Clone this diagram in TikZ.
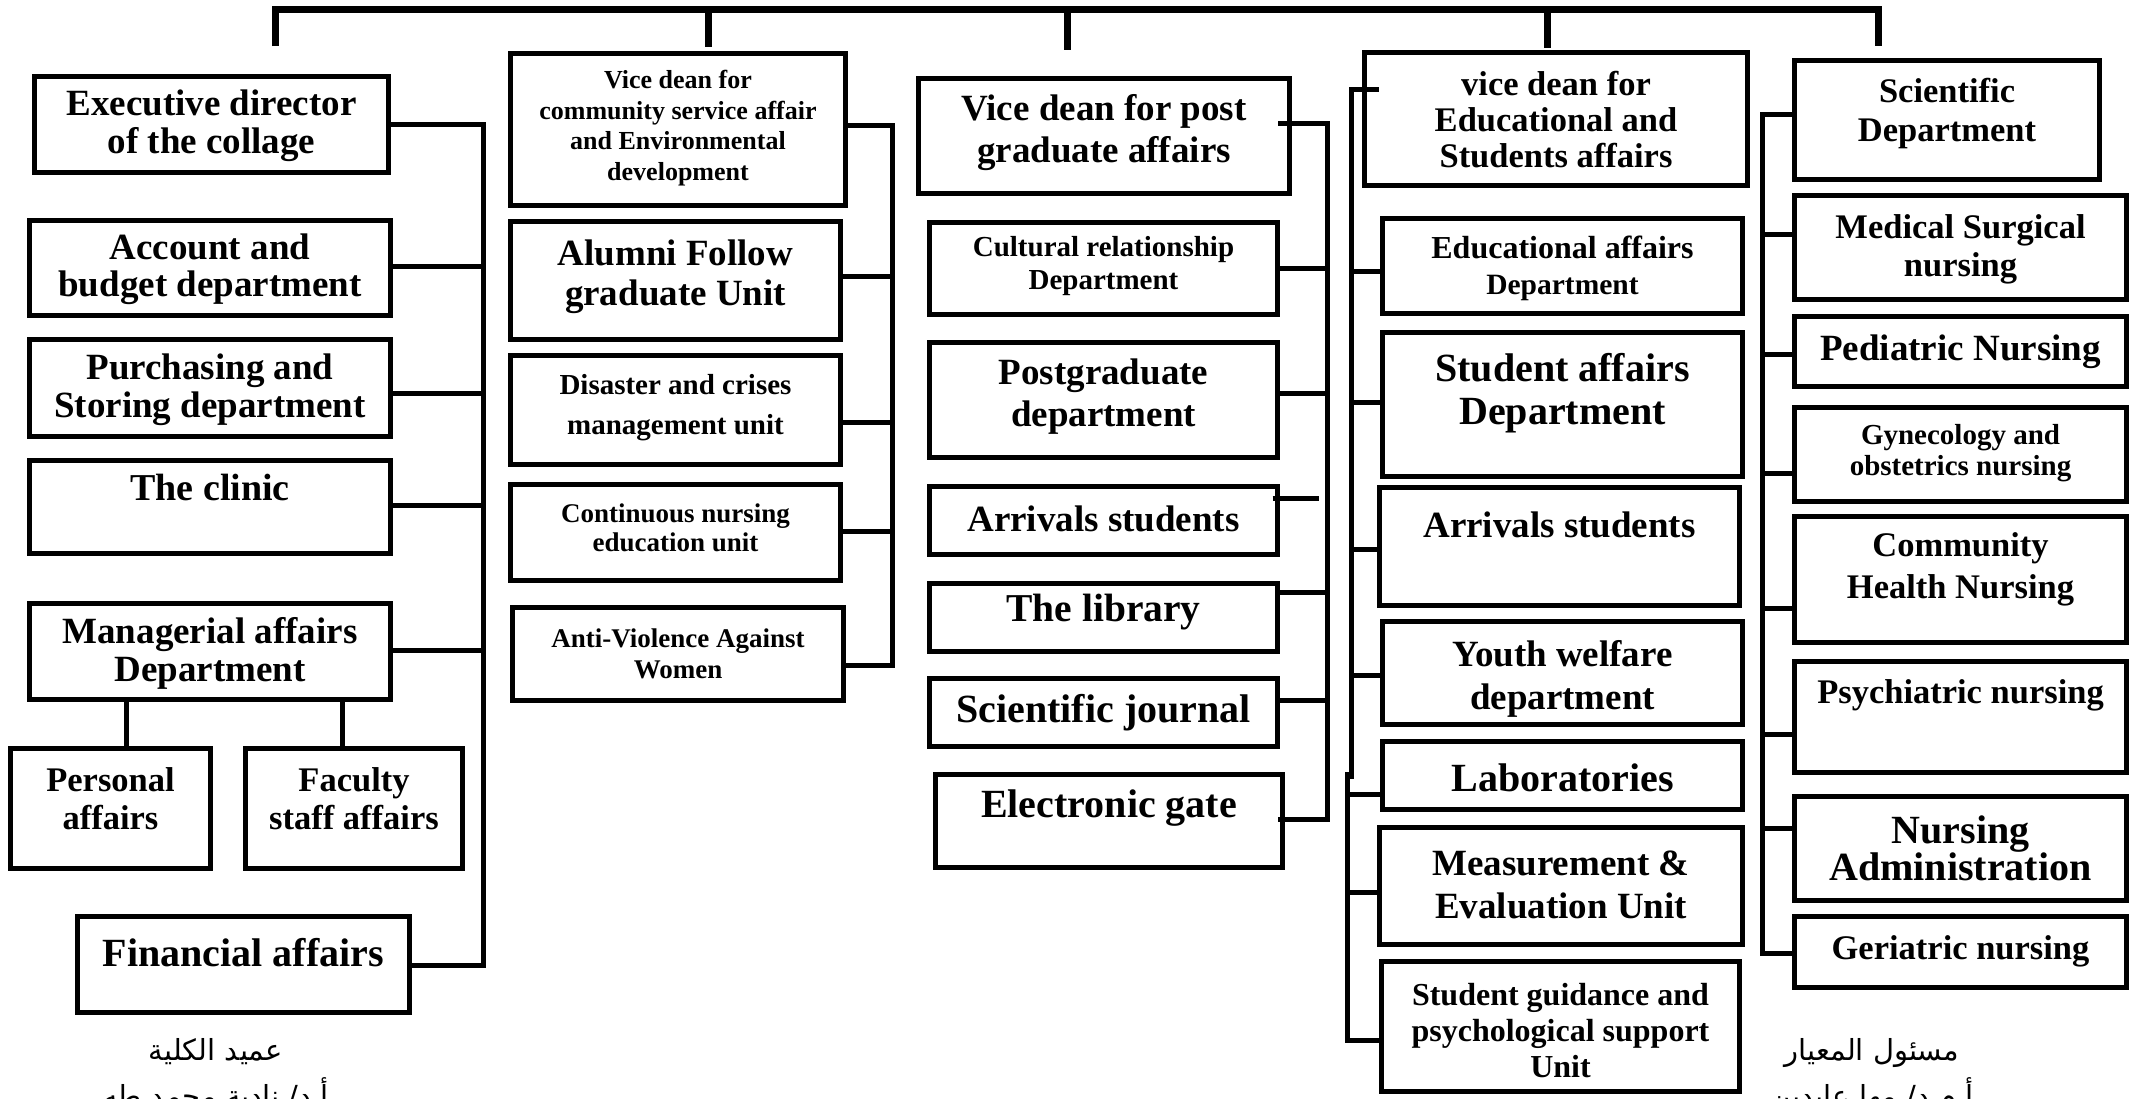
\documentclass[tikz,border=0pt]{standalone}
\usepackage{fontspec}
\setmainfont{Liberation Serif}
\newfontfamily\arabicfont[Script=Arabic]{DejaVu Sans}
\TeXXeTstate=1
\tikzset{
  obx/.style={draw, line width=5pt, rectangle, inner sep=0pt, outer sep=0pt},
  otx/.style={align=center, inner sep=0pt},
  conn/.style={line width=5pt},
  topbar/.style={line width=7pt},
  arb/.style={inner sep=0pt, anchor=base, font=\arabicfont\fontsize{29}{42}\selectfont}
}
% name, x1, y1, x2, y2, text-y, size, skip, text
\newcommand\obox[9]{%
  \node[obx, minimum width={#4-#2-5}, minimum height={#5-#3-5}] (#1) at ({(#2+#4)/2},{(#3+#5)/2}) {};
  \node[otx, font=\bfseries\fontsize{#7}{#8}\selectfont] (#1-t) at ({(#2+#4)/2},#6) {#9};
}
\begin{document}
\begin{tikzpicture}[x=1pt,y=-1pt]
\fill[white] (0,0) rectangle (2133,1098);
\useasboundingbox (0,0) rectangle (2133,1098);

% ---------- column 1
\obox{exec}{32}{74}{391}{175}{126}{37}{38}{Executive director\\of the collage}
\obox{acct}{27}{218}{393}{318}{269}{37}{37}{Account and\\budget department}
\obox{purch}{27}{337}{393}{439}{390}{37}{38}{Purchasing and\\Storing department}
\obox{clinic}{27}{458}{393}{556}{487}{38}{40}{The clinic}
\obox{manag}{27}{601}{393}{702}{653}{37}{38}{Managerial affairs\\Department}
\obox{pers}{8}{746}{213}{871}{799}{34.5}{38}{Personal\\affairs}
\obox{fac}{243}{746}{465}{871}{799}{34.5}{38}{Faculty\\staff affairs}
\obox{fin}{75}{914}{412}{1015}{953}{40}{42}{Financial affairs}

% ---------- column 2
\obox{com}{508}{51}{848}{208}{128}{26}{30.5}{Vice dean for\\community service affair\\and Environmental\\development}
\obox{alum}{508}{219}{843}{342}{277}{37}{40}{Alumni Follow\\graduate Unit}
\obox{dis}{508}{353}{843}{467}{408}{29}{40}{Disaster and crises\\management unit}
\obox{cont}{508}{482}{843}{583}{528}{27}{29}{Continuous nursing\\education unit}
\obox{anti}{510}{605}{846}{703}{654}{27}{31}{Anti-Violence Against\\Women}

% ---------- column 3
\obox{vpg}{916}{76}{1292}{196}{133}{37}{42}{Vice dean for post\\graduate affairs}
\obox{cult}{927}{220}{1280}{317}{266}{29}{33}{Cultural relationship\\Department}
\obox{postg}{927}{340}{1280}{460}{397}{37}{42}{Postgraduate\\department}
\obox{arrA}{927}{484}{1280}{557}{519}{37}{40}{Arrivals students}
\obox{lib}{927}{581}{1280}{654}{612}{39.5}{42}{The library}
\obox{sj}{927}{676}{1280}{749}{713}{40}{42}{Scientific journal}
\obox{eg}{933}{772}{1285}{870}{808}{40}{42}{Electronic gate}

% ---------- column 4
\obox{ved}{1362}{50}{1750}{188}{120}{34.5}{36}{vice dean for\\Educational and\\Students affairs}
\obox{edu}{1380}{216}{1745}{316}{268}{32}{36}{Educational affairs\\\fontsize{29.5}{36}\selectfont Department}
\obox{sad}{1380}{330}{1745}{479}{393}{40}{43}{Student affairs\\Department}
\obox{arrB}{1377}{485}{1742}{608}{525}{37}{40}{Arrivals students}
\obox{youth}{1380}{619}{1745}{727}{679}{37}{43}{Youth welfare\\department}
\obox{lab}{1380}{739}{1745}{812}{778}{40}{42}{Laboratories}
\obox{meas}{1377}{825}{1745}{947}{885}{37}{43}{Measurement \&\\Evaluation Unit}
\obox{guid}{1379}{959}{1742}{1094}{1031}{32}{36}{Student guidance and\\psychological support\\Unit}

% ---------- column 5
\obox{sci}{1792}{58}{2102}{182}{114}{34.5}{39}{Scientific\\Department}
\obox{med}{1792}{193}{2129}{302}{249}{34.5}{38}{Medical Surgical\\nursing}
\obox{ped}{1792}{314}{2129}{389}{352}{37}{40}{Pediatric Nursing}
\obox{gyn}{1792}{405}{2129}{504}{453}{29}{31}{Gynecology and\\obstetrics nursing}
\obox{chn}{1792}{514}{2129}{645}{569}{34.5}{42}{Community\\Health Nursing}
\obox{psy}{1792}{659}{2129}{775}{695}{34.5}{38}{Psychiatric nursing}
\obox{nad}{1792}{794}{2129}{903}{848}{40}{37}{Nursing\\Administration}
\obox{ger}{1792}{914}{2129}{990}{951}{34.5}{38}{Geriatric nursing}

% ---------- top bar
\coordinate (t1) at (275,9);  \coordinate (b1) at (275,46);
\coordinate (t2) at (708,9);  \coordinate (b2) at (708,47);
\coordinate (t3) at (1067,9); \coordinate (b3) at (1067,50);
\coordinate (t4) at (1547,9); \coordinate (b4) at (1547,48);
\coordinate (t5) at (1878,9); \coordinate (b5) at (1878,46);
\draw[topbar] (b1) -- (t1) -- (t5) -- (b5);
\draw[topbar] (t2) -- (b2);
\draw[topbar] (t3) -- (b3);
\draw[topbar] (t4) -- (b4);

% ---------- column 1 connectors
\coordinate (s1a) at (483,124); \coordinate (s1b) at (483,266);
\coordinate (s1c) at (483,393); \coordinate (s1d) at (483,505);
\coordinate (s1e) at (483,650); \coordinate (s1f) at (483,965);
\draw[conn] (s1a -| exec.east) -- (s1a) -- (s1f) -- (s1f -| fin.east);
\draw[conn] (s1b) -- (s1b -| acct.east);
\draw[conn] (s1c) -- (s1c -| purch.east);
\draw[conn] (s1d) -- (s1d -| clinic.east);
\draw[conn] (s1e) -- (s1e -| manag.east);
\coordinate (m1) at (126,720); \coordinate (m2) at (342,720);
\draw[conn] (m1 |- manag.south) -- (m1 |- pers.north);
\draw[conn] (m2 |- manag.south) -- (m2 |- fac.north);

% ---------- column 2 connectors
\coordinate (s2a) at (892,125); \coordinate (s2b) at (892,276);
\coordinate (s2c) at (892,422); \coordinate (s2d) at (892,531);
\coordinate (s2e) at (892,665);
\draw[conn] (s2a -| com.east) -- (s2a) -- (s2e) -- (s2e -| anti.east);
\draw[conn] (s2b) -- (s2b -| alum.east);
\draw[conn] (s2c) -- (s2c -| dis.east);
\draw[conn] (s2d) -- (s2d -| cont.east);

% ---------- column 3 connectors
\coordinate (s3a) at (1327,123); \coordinate (s3b) at (1327,268);
\coordinate (s3c) at (1327,393); \coordinate (s3d) at (1327,498);
\coordinate (s3e) at (1327,592); \coordinate (s3f) at (1327,700);
\coordinate (s3g) at (1327,819);
\draw[conn] ([xshift=-11.5pt]s3a -| vpg.east) -- (s3a) -- (s3g) -- ([xshift=-4.5pt]s3g -| eg.east);
\draw[conn] (s3b) -- (s3b -| cult.east);
\draw[conn] (s3c) -- (s3c -| postg.east);
\draw[conn] ([xshift=-5pt]s3d -| arrA.east) -- ([xshift=-8pt]s3d);
\draw[conn] (s3e) -- (s3e -| lib.east);
\draw[conn] (s3f) -- (s3f -| sj.east);

% ---------- column 4 connectors
\coordinate (s4a) at (1351,89);  \coordinate (s4j1) at (1351,779);
\coordinate (s4j2) at (1347,772); \coordinate (s4h) at (1347,1040);
\coordinate (s4b) at (1351,271); \coordinate (s4c) at (1351,402);
\coordinate (s4d) at (1351,549); \coordinate (s4e) at (1351,675);
\coordinate (s4f) at (1347,794); \coordinate (s4g) at (1347,892);
\draw[conn] ([xshift=14pt]s4a -| ved.west) -- (s4a) -- (s4j1);
\draw[conn] (s4j2) -- (s4h) -- (s4h -| guid.west);
\draw[conn] (s4b) -- (s4b -| edu.west);
\draw[conn] (s4c) -- (s4c -| sad.west);
\draw[conn] (s4d) -- (s4d -| arrB.west);
\draw[conn] (s4e) -- (s4e -| youth.west);
\draw[conn] (s4f) -- (s4f -| lab.west);
\draw[conn] (s4g) -- (s4g -| meas.west);

% ---------- column 5 connectors
\coordinate (s5a) at (1762,114); \coordinate (s5b) at (1762,234);
\coordinate (s5c) at (1762,354); \coordinate (s5d) at (1762,473);
\coordinate (s5e) at (1762,608); \coordinate (s5f) at (1762,734);
\coordinate (s5g) at (1762,828); \coordinate (s5h) at (1762,953);
\draw[conn] (s5a -| sci.west) -- (s5a) -- (s5h) -- (s5h -| ger.west);
\draw[conn] (s5b) -- (s5b -| med.west);
\draw[conn] (s5c) -- (s5c -| ped.west);
\draw[conn] (s5d) -- (s5d -| gyn.west);
\draw[conn] (s5e) -- (s5e -| chn.west);
\draw[conn] (s5f) -- (s5f -| psy.west);
\draw[conn] (s5g) -- (s5g -| nad.west);

% ---------- signatures
\node[arb] (sigL1) at (216,1060) {\beginR عميد الكلية\endR};
\node[arb] (sigL2) at (216,1106) {\beginR أ.د/ نادية محمد طه\endR};
\node[arb] (sigR1) at (1872,1060) {\beginR مسئول المعيار\endR};
\node[arb] (sigR2) at (1872,1106) {\beginR أ.م.د/ مها عابدين\endR};
\end{tikzpicture}
\end{document}
